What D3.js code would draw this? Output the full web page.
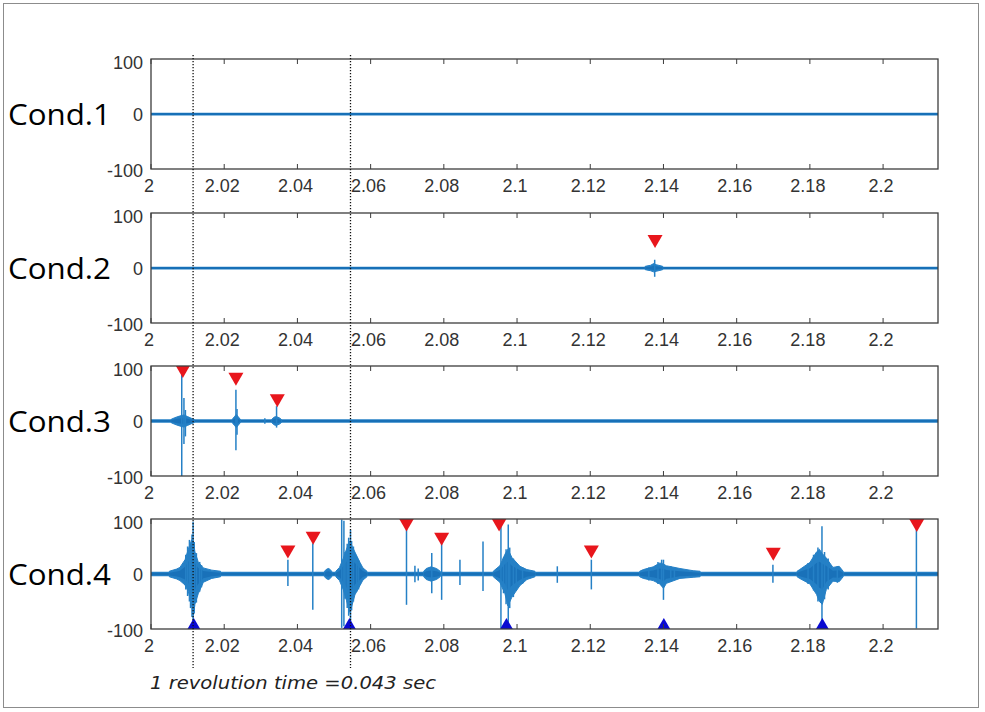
<!DOCTYPE html>
<html><head><meta charset="utf-8">
<script src="https://cdn.jsdelivr.net/npm/d3@7"></script>
<style>body{margin:0;background:#fff}</style></head>
<body><svg id="c" width="985" height="712"></svg>
<script>
// ---------------- data ----------------
const conditions = ["Cond.1", "Cond.2", "Cond.3", "Cond.4"];
const xDomain = [2, 2.215];
const xTicks = [2, 2.02, 2.04, 2.06, 2.08, 2.1, 2.12, 2.14, 2.16, 2.18, 2.2];
const xTickLabels = ["2", "2.02", "2.04", "2.06", "2.08", "2.1", "2.12", "2.14", "2.16", "2.18", "2.2"];
const yTicks = [-100, 0, 100];
const yTickLabels = ["-100", "0", "100"];
const baseNoise = [2.5, 2.5, 3, 4.2];           // half width of background noise band per condition
const revolutionLines = [2.0115, 2.0545];      // dotted lines, 0.043 s apart
const annotation = "1 revolution time =0.043 sec";

// burst envelopes: [time, upper, lower]
const bursts1 = [];
const bursts2 = [
  [[2.1350, 3, -3], [2.1365, 5, -5], [2.1373, 8, -7], [2.1380, 6, -6], [2.1398, 3, -3]]
];
const bursts3 = [
  [[2.0055, 3, -3], [2.0065, 6, -6], [2.0078, 9, -9], [2.0090, 11, -11], [2.0100, 8, -8], [2.0110, 5, -5], [2.0118, 3, -3]],
  [[2.0222, 3, -3], [2.0228, 8, -8], [2.0233, 12, -12], [2.0238, 8, -8], [2.0244, 3, -3]],
  [[2.0330, 3, -3], [2.0336, 7, -7], [2.0342, 8, -8], [2.0350, 6, -6], [2.0356, 3, -3]]
];
const bursts4 = [
  [[2.0050, 5, -5], [2.0070, 9, -9], [2.0079, 12, -12], [2.0093, 26, -20], [2.0102, 45, -32], [2.0111, 62, -55], [2.0116, 60, -75], [2.0120, 40, -55], [2.0129, 22, -36], [2.0143, 11, -15], [2.0166, 7, -8], [2.0190, 5, -5]],
  [[2.0474, 5, -5], [2.0480, 9, -9], [2.0486, 10, -10], [2.0494, 5, -5]],
  [[2.0505, 5, -5], [2.0515, 12, -12], [2.0525, 28, -28], [2.0534, 45, -48], [2.0543, 60, -70], [2.0550, 50, -55], [2.0557, 40, -38], [2.0571, 21, -21], [2.0579, 11, -11], [2.0590, 5, -5]],
  [[2.0745, 5, -5], [2.0752, 10, -10], [2.0765, 13, -13], [2.0780, 10, -10], [2.0790, 5, -5]],
  [[2.0935, 5, -5], [2.0953, 15, -15], [2.0967, 36, -36], [2.0975, 45, -58], [2.0986, 30, -42], [2.1008, 14, -21], [2.1027, 8, -10], [2.1049, 5, -5]],
  [[2.1335, 5, -5], [2.1345, 8, -8], [2.1372, 13, -12], [2.1390, 20, -18], [2.1400, 18, -26], [2.1408, 15, -17], [2.1445, 10, -8], [2.1481, 6, -6], [2.1500, 5, -5]],
  [[2.1765, 5, -5], [2.1772, 8, -8], [2.1800, 21, -18], [2.1818, 40, -37], [2.1826, 45, -50], [2.1834, 37, -55], [2.1845, 29, -28], [2.1863, 12, -13], [2.1880, 14, -14], [2.1891, 5, -5]]
];

// single spikes: [time, max, min]
const spikes1 = [];
const spikes2 = [[2.1376, 15, -16]];
const spikes3 = [[2.0084, 92, -100], [2.0090, 42, -42], [2.0094, 20, -28], [2.0232, 57, -53], [2.0235, 22, -25], [2.0311, 5, -5], [2.0343, 27, -12]];
const spikes4 = [
  [2.0095, 35, -28], [2.0100, 50, -40], [2.0105, 62, -50], [2.0112, 72, -78], [2.0118, 58, -72], [2.0124, 38, -52], [2.0133, 22, -32], [2.0138, 16, -24],
  [2.0115, 95, -90], [2.0108, 40, -62],
  [2.0374, 26, -22], [2.0442, 56, -65],
  [2.0530, 40, -45], [2.0536, 55, -62], [2.0540, 66, -76], [2.0548, 60, -66], [2.0553, 50, -50], [2.0562, 30, -32], [2.0567, 25, -28],
  [2.0521, 99, -98], [2.0527, 97, -95], [2.0545, 80, -90],
  [2.0698, 90, -56], [2.0721, 15, -15], [2.0730, 10, -12],
  [2.0767, 38, -35], [2.0794, 64, -47], [2.0844, 26, -20], [2.0907, 59, -31],
  [2.0963, 30, -35], [2.0970, 45, -55], [2.0980, 48, -62], [2.0990, 28, -42], [2.0998, 20, -30], [2.1015, 12, -18],
  [2.0956, 99, -98], [2.0976, 90, -95],
  [2.1110, 14, -16], [2.1203, 26, -28],
  [2.1360, 12, -12], [2.1385, 22, -18], [2.1395, 26, -22], [2.1420, 14, -14], [2.1430, 12, -10],
  [2.1400, 26, -47],
  [2.1699, 17, -16],
  [2.1795, 20, -18], [2.1810, 35, -30], [2.1822, 48, -50], [2.1840, 40, -46], [2.1850, 28, -28], [2.1875, 14, -16],
  [2.1833, 87, -89], [2.2091, 90, -99]
];

// markers: [time, value]
const redMarkers1 = [];
const redMarkers2 = [[2.1377, 48]];
const redMarkers3 = [[2.0087, 90], [2.0232, 76], [2.0345, 37]];
const redMarkers4 = [[2.0374, 40], [2.0443, 65], [2.0698, 89], [2.0794, 63], [2.0951, 89], [2.1203, 40], [2.1700, 36], [2.2092, 88]];
const blueMarkers4 = [[2.0117, -91], [2.0542, -91], [2.0971, -91], [2.1401, -91], [2.1834, -91]];

// ---------------- drawing ----------------
const burstsAll = [bursts1, bursts2, bursts3, bursts4];
const spikesAll = [spikes1, spikes2, spikes3, spikes4];
const redAll = [redMarkers1, redMarkers2, redMarkers3, redMarkers4];
const blueAll = [[], [], [], blueMarkers4];

const svg = d3.select("#c");
svg.append("rect").attr("x", 3.5).attr("y", 3.5).attr("width", 975).attr("height", 704)
  .attr("fill", "#fff").attr("stroke", "#8c8c8c").attr("stroke-width", 1);

const left = 151, right = 938, panelH = 110;
const tops = [59, 213, 366, 519];
const x = d3.scaleLinear().domain(xDomain).range([left, right]);
const sigColor = "#2580c6";
const sigDark = "#0b60a8";
const tickFont = "'Liberation Sans', Arial, sans-serif";

tops.forEach((top, i) => {
  const y = d3.scaleLinear().domain([-100, 100]).range([top + panelH, top]);
  const g = svg.append("g");
  const clip = "clip" + i;
  svg.append("clipPath").attr("id", clip).append("rect")
    .attr("x", left).attr("y", top).attr("width", right - left).attr("height", panelH);
  const plot = g.append("g").attr("clip-path", `url(#${clip})`);

  // background noise band
  const area = d3.area().x(d => x(d[0])).y0(d => y(d[2])).y1(d => y(d[1]));
  const n = baseNoise[i];
  plot.append("path").datum([[xDomain[0], n, -n], [xDomain[1], n, -n]])
    .attr("d", area).attr("fill", sigColor);
  plot.append("path").datum([[xDomain[0], 0], [xDomain[1], 0]])
    .attr("d", d3.line().x(d => x(d[0])).y(d => y(d[1])))
    .attr("stroke", sigDark).attr("stroke-width", 1).attr("fill", "none");

  // bursts
  plot.selectAll("path.burst").data(burstsAll[i]).join("path")
    .attr("class", "burst").attr("d", area)
    .attr("fill", sigColor).attr("stroke", sigColor).attr("stroke-width", 1)
    .attr("stroke-linejoin", "round");
  // darker core of bursts
  plot.selectAll("path.core").data(burstsAll[i]).join("path")
    .attr("class", "core")
    .attr("d", d3.area().x(d => x(d[0])).y0(d => y(d[2] * 0.5)).y1(d => y(d[1] * 0.5)))
    .attr("fill", sigDark).attr("opacity", 0.45);

  // spikes
  plot.selectAll("line.spike").data(spikesAll[i]).join("line")
    .attr("class", "spike")
    .attr("x1", d => x(d[0])).attr("x2", d => x(d[0]))
    .attr("y1", d => y(d[1])).attr("y2", d => y(d[2]))
    .attr("stroke", sigColor).attr("stroke-width", 1.5);

  // frame
  g.append("rect").attr("x", left).attr("y", top).attr("width", right - left).attr("height", panelH)
    .attr("fill", "none").attr("stroke", "#3c3c3c").attr("stroke-width", 1.3);

  // x ticks (inward, top and bottom)
  xTicks.forEach(t => {
    g.append("line").attr("x1", x(t)).attr("x2", x(t)).attr("y1", top).attr("y2", top + 5)
      .attr("stroke", "#3c3c3c").attr("stroke-width", 1);
    g.append("line").attr("x1", x(t)).attr("x2", x(t)).attr("y1", top + panelH).attr("y2", top + panelH - 5)
      .attr("stroke", "#3c3c3c").attr("stroke-width", 1);
  });
  // x tick labels
  g.selectAll("text.xt").data(xTicks).join("text")
    .attr("class", "xt")
    .attr("x", t => x(t) - 2).attr("y", top + panelH + 23)
    .attr("text-anchor", "middle").attr("font-family", tickFont).attr("font-size", 18)
    .attr("fill", "#333").text((t, k) => xTickLabels[k]);
  // y tick labels
  const yOff = { "100": 10, "0": 6.5, "-100": 7.5 };
  g.selectAll("text.yt").data(yTicks).join("text")
    .attr("class", "yt")
    .attr("x", 143).attr("y", (v, k) => y(v) + yOff[yTickLabels[k]])
    .attr("text-anchor", "end").attr("font-family", tickFont).attr("font-size", 18)
    .attr("fill", "#333").text((v, k) => yTickLabels[k]);

  // condition label
  g.append("text").attr("x", 8).attr("y", y(0) + 11)
    .attr("font-family", "'Open Sans', 'Noto Sans', sans-serif").attr("font-size", 29)
    .attr("textLength", 103).attr("lengthAdjust", "spacingAndGlyphs")
    .attr("fill", "#000").text(conditions[i]);

  // red markers (downward triangles)
  const tw = 15, th = 13;
  plot.selectAll("path.red").data(redAll[i]).join("path")
    .attr("class", "red")
    .attr("d", d => {
      const cx = x(d[0]), cy = y(d[1]);
      return `M${cx - tw / 2},${cy - th / 2}L${cx + tw / 2},${cy - th / 2}L${cx},${cy + th / 2}Z`;
    })
    .attr("fill", "#e8161c");
  // blue markers (upward triangles)
  const bw = 14, bh = 12;
  plot.selectAll("path.blue").data(blueAll[i]).join("path")
    .attr("class", "blue")
    .attr("d", d => {
      const cx = x(d[0]), cy = y(d[1]);
      return `M${cx - bw / 2},${cy + bh / 2}L${cx + bw / 2},${cy + bh / 2}L${cx},${cy - bh / 2}Z`;
    })
    .attr("fill", "#0a0ad2");
});

// dotted revolution lines
svg.selectAll("line.rev").data(revolutionLines).join("line")
  .attr("class", "rev")
  .attr("x1", d => x(d)).attr("x2", d => x(d))
  .attr("y1", 55).attr("y2", 668)
  .attr("stroke", "#111").attr("stroke-width", 1.3).attr("stroke-dasharray", "1.3,1.7");

// annotation
svg.append("text").attr("x", 150).attr("y", 689)
  .attr("font-family", "'DejaVu Sans', Verdana, sans-serif").attr("font-style", "italic")
  .attr("font-size", 18).attr("textLength", 286).attr("lengthAdjust", "spacingAndGlyphs")
  .attr("fill", "#222").text(annotation);
</script></body></html>
